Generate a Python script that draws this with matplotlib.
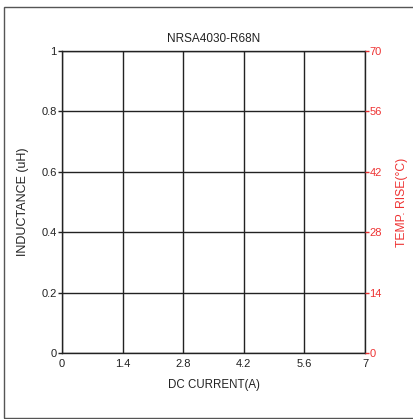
import matplotlib.pyplot as plt
from matplotlib.patches import Rectangle

plt.rcParams['font.family'] = ['Liberation Sans', 'DejaVu Sans']

# axis data
current_ticks = [0, 1.4, 2.8, 4.2, 5.6, 7]
current_labels = ['0', '1.4', '2.8', '4.2', '5.6', '7']
induct_ticks = [0, 0.2, 0.4, 0.6, 0.8, 1]
induct_labels = ['0', '0.2', '0.4', '0.6', '0.8', '1']
temp_ticks = [0, 14, 28, 42, 56, 70]
temp_labels = ['0', '14', '28', '42', '56', '70']

W, H = 414, 419
fig = plt.figure(figsize=(W / 100, H / 100), dpi=100)
ink = '#222222'
red = '#ee3333'

# plot box in pixels: left 62, right 365, top 51, bottom 353
ax = fig.add_axes([62 / W, 1 - 353 / H, (365 - 62) / W, (353 - 51) / H])
ax.set_xlim(current_ticks[0], current_ticks[-1])
ax.set_ylim(induct_ticks[0], induct_ticks[-1])
ax.set_xticks(current_ticks)
ax.set_xticklabels(current_labels)
ax.set_yticks(induct_ticks)
ax.set_yticklabels(induct_labels)
ax.tick_params(axis='x', length=0, labelsize=8, colors=ink, pad=4.5)
ax.tick_params(axis='y', length=3, width=1, direction='out', labelsize=8, colors=ink, pad=0.8)
ax.grid(True, color=ink, linewidth=1.0)
for s in ax.spines.values():
    s.set_color(ink)
    s.set_linewidth(1.0)
ax.set_xlabel('DC CURRENT(A)', fontsize=8.3, color=ink)
ax.xaxis.set_label_coords(0.5, (353 - 379) / 302)
ax.set_ylabel('INDUCTANCE (uH)', fontsize=9, color=ink)
ax.yaxis.set_label_coords((29 - 62) / 303, 0.5)
ax.set_title('NRSA4030-R68N', fontsize=8.5, color=ink, pad=6.5)

ax2 = ax.twinx()
ax2.set_ylim(temp_ticks[0], temp_ticks[-1])
ax2.set_yticks(temp_ticks)
ax2.set_yticklabels(temp_labels)
ax2.tick_params(axis='y', length=3, width=1, colors=red, labelsize=8, pad=0.2)
for s in ax2.spines.values():
    s.set_visible(False)
ax2.set_ylabel('TEMP. RISE(°C)', fontsize=8.7, color=red)
ax2.yaxis.set_label_coords((396 - 62) / 303, 0.5)

# outer frame
fig.patches.append(Rectangle((4 / W, 1 - 418 / H), 420 / W, 411 / H,
                             transform=fig.transFigure, fill=False,
                             edgecolor='#555555', linewidth=1.0))

fig.savefig('out.png', dpi=100)
